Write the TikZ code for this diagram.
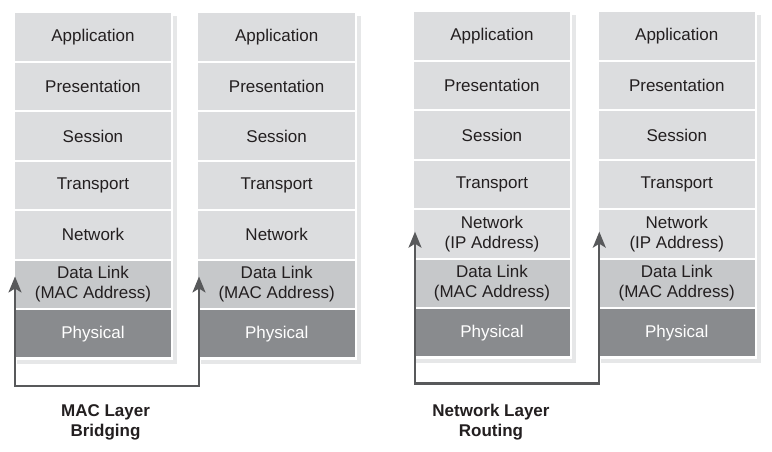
\documentclass[tikz,border=0pt]{standalone}
\usepackage{fontspec}
\setmainfont{Liberation Sans}
\usetikzlibrary{arrows.meta}
\definecolor{lgray}{HTML}{DCDDDF}
\definecolor{mgray}{HTML}{C6C8CA}
\definecolor{dgray}{HTML}{898B8E}
\definecolor{shadowc}{HTML}{E6E7E8}
\definecolor{txt}{HTML}{231F20}
\definecolor{arr}{HTML}{58595B}
\begin{document}
\begin{tikzpicture}[x=1pt,y=-1pt,
  layer/.style={rectangle, anchor=north west, inner sep=0pt, minimum width=156.5pt,
    minimum height=47.4pt, align=center, text=txt, font=\fontsize{17}{20}\selectfont},
  lab/.style={align=center, text=txt, font=\bfseries\fontsize{17}{20}\selectfont},
  conn/.style={draw=arr, line width=2.2pt, {Stealth[length=16pt,width=13pt,inset=4pt]}-{Stealth[length=16pt,width=13pt,inset=4pt]}}]
\useasboundingbox (0,0) rectangle (772,452);
\fill[white] (0,0) rectangle (772,452);
\foreach \s/\x/\y/\net in {s1/14.5/13.3/Network, s2/198.2/13.3/Network,
    s3/413.5/12.3/{Network\\(IP Address)}, s4/598.3/12.3/{Network\\(IP Address)}}{
  \fill[shadowc] (\x+2.5,\y+2.7) rectangle (\x+162.5,\y+350.7);
  \fill[white] (\x,\y) rectangle (\x+158.8,\y+346.3);
  \node[layer,fill=lgray] (\s-app) at (\x,\y) {Application};
  \node[layer,fill=lgray] (\s-pre) at (\x,\y+49.43) {Presentation};
  \node[layer,fill=lgray] (\s-ses) at (\x,\y+98.86) {Session};
  \node[layer,fill=lgray] (\s-tra) at (\x,\y+148.29) {Transport};
  \node[layer,fill=lgray] (\s-net) at (\x,\y+197.72) {\net};
  \node[layer,fill=mgray] (\s-dl)  at (\x,\y+247.15) {Data Link\\(MAC Address)};
  \node[layer,fill=dgray,text=white] (\s-phy) at (\x,\y+296.58) {Physical};
}
% MAC bridging connector
\coordinate (t1) at (15,276.5);
\coordinate (c1) at (15,385.7);
\coordinate (c2) at (199,385.7);
\coordinate (t2) at (199,276.5);
\draw[conn] (t1) -- (c1) -- (c2) -- (t2);
% Network routing connector
\coordinate (t3) at (415,231.7);
\coordinate (c3) at (415,383.5);
\coordinate (c4) at (599.3,383.5);
\coordinate (t4) at (599.3,231.7);
\draw[conn] (t3) -- (c3) -- (c4) -- (t4);
\node[lab] (l1) at (105.5,422.7) {MAC Layer\\Bridging};
\node[lab] (l2) at (491,422) {Network Layer\\Routing};
\end{tikzpicture}
\end{document}
